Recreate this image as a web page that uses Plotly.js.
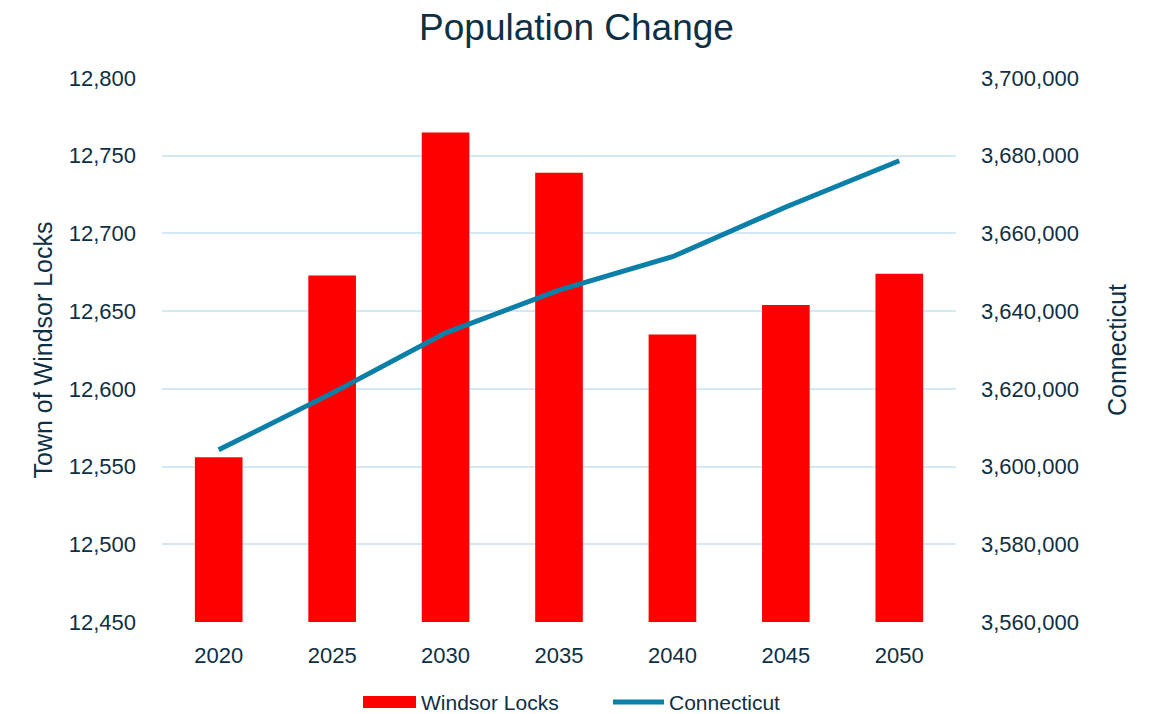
<!DOCTYPE html>
<html>
<head>
<meta charset="utf-8">
<script src="https://cdn.plot.ly/plotly-3.0.1.min.js"></script>
<style>html,body{margin:0;padding:0;background:#fff;}#chart{width:1153px;height:714px;}</style>
</head>
<body>
<div id="chart"></div>
<script>
const years = ["2020", "2025", "2030", "2035", "2040", "2045", "2050"];
const windsorLocks = [12556, 12673, 12765, 12739, 12635, 12654, 12674];
const connecticut = [3604300, 3618900, 3634400, 3645400, 3654000, 3666800, 3678700];
const leftTicks = [12450, 12500, 12550, 12600, 12650, 12700, 12750, 12800];
const rightTicks = [3560000, 3580000, 3600000, 3620000, 3640000, 3660000, 3680000, 3700000];
const seriesNames = ["Windsor Locks", "Connecticut"];

const textColor = "#0e2f44";
const barColor = "#ff0000";
const lineColor = "#0a7fa8";
const fam = "Liberation Sans, Arial, sans-serif";
const font = {family: fam, size: 22, color: textColor};
const legFont = {family: fam, size: 21, color: textColor};

const traces = [
  {
    type: "bar", name: seriesNames[0], x: years, y: windsorLocks,
    marker: {color: barColor}, width: 0.42, yaxis: "y", showlegend: false
  },
  {
    type: "scatter", mode: "lines", name: seriesNames[1], x: years, y: connecticut,
    line: {color: lineColor, width: 5}, yaxis: "y2", showlegend: false
  }
];

// custom legend (paper coordinates): plot area spans x 162..956, y 78..622
const L = 162, W = 794, T = 78, H = 544;
const px = v => (v - L) / W;
const py = v => (T + H - v) / H;
const legY = 702;

const layout = {
  width: 1153, height: 714,
  margin: {l: 162, r: 197, t: 78, b: 92},
  paper_bgcolor: "#fff", plot_bgcolor: "#fff",
  font: font,
  title: {text: "Population Change", x: 0.5, xanchor: "center", y: 1 - 27 / 714, yanchor: "middle",
          font: {family: fam, size: 37, color: textColor}},
  xaxis: {type: "category", showgrid: false, zeroline: false, showline: false,
          ticks: "", ticklabelstandoff: 18, tickfont: font},
  yaxis: {range: [12450, 12800], tickvals: leftTicks, ticktext: leftTicks.map(v => v.toLocaleString("en-US")),
          showgrid: true, gridcolor: "#d3e9f7", gridwidth: 2, zeroline: false, showline: false,
          ticks: "", ticklabelstandoff: 25, tickfont: font,
          title: {text: "Town of Windsor Locks", standoff: 8,
                  font: {family: fam, size: 25, color: textColor}}},
  yaxis2: {range: [3560000, 3700000], tickvals: rightTicks, ticktext: rightTicks.map(v => v.toLocaleString("en-US")),
           overlaying: "y", side: "right", showgrid: false, zeroline: false, showline: false,
           ticks: "", ticklabelstandoff: 24, tickfont: font,
           title: {text: "Connecticut", standoff: 30,
                   font: {family: fam, size: 25, color: textColor}}},
  showlegend: false,
  shapes: [
    {type: "rect", xref: "paper", yref: "paper", x0: px(363), x1: px(416), y0: py(708), y1: py(696),
     fillcolor: barColor, line: {width: 0}},
    {type: "line", xref: "paper", yref: "paper", x0: px(613), x1: px(664), y0: py(legY), y1: py(legY),
     line: {color: lineColor, width: 5}}
  ],
  annotations: [
    {xref: "paper", yref: "paper", x: px(420), y: py(legY), xanchor: "left", yanchor: "middle",
     text: seriesNames[0], showarrow: false, font: legFont, borderpad: 0},
    {xref: "paper", yref: "paper", x: px(668), y: py(legY), xanchor: "left", yanchor: "middle",
     text: seriesNames[1], showarrow: false, font: legFont, borderpad: 0}
  ],
  bargap: 0.58
};

Plotly.newPlot("chart", traces, layout, {displayModeBar: false, staticPlot: true});
</script>
</body>
</html>
